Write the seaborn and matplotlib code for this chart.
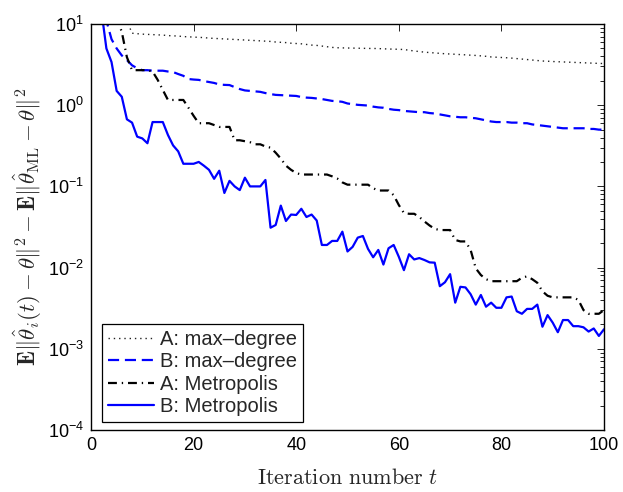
import numpy as np
import pandas as pd
import matplotlib
matplotlib.use("Agg")
import matplotlib.pyplot as plt
import seaborn as sns
from matplotlib.ticker import LogLocator, FixedLocator, NullFormatter, FuncFormatter

# ---------------- data ----------------
t = list(range(1, 101))

A_maxdeg = [100, 80, 60, 40, 25, 15, 11, 7.7, 7.6, 7.5,
            7.45, 7.4, 7.35, 7.3, 7.2, 7.15, 7.1, 7.0, 6.95, 6.9,
            6.85, 6.8, 6.7, 6.65, 6.6, 6.55, 6.5, 6.45, 6.4, 6.35,
            6.3, 6.25, 6.2, 6.15, 6.1, 6.0, 5.95, 5.9, 5.8, 5.75,
            5.7, 5.6, 5.5, 5.45, 5.35, 5.25, 5.15, 5.1, 5.08, 5.06,
            5.05, 5.03, 5.02, 5.0, 5.0, 4.98, 4.95, 4.92, 4.9, 4.88,
            4.85, 4.75, 4.65, 4.58, 4.5, 4.45, 4.4, 4.35, 4.3, 4.27,
            4.24, 4.2, 4.17, 4.13, 4.1, 4.05, 4.0, 3.93, 3.9, 3.87,
            3.84, 3.8, 3.75, 3.7, 3.65, 3.6, 3.55, 3.5, 3.48, 3.45,
            3.43, 3.41, 3.39, 3.37, 3.35, 3.33, 3.31, 3.29, 3.27, 3.26]

B_maxdeg = [50, 25, 11, 6.5, 5.0, 4.1, 3.6, 3.1, 2.85, 2.7,
            2.7, 2.66, 2.66, 2.66, 2.6, 2.56, 2.42, 2.3, 2.1, 2.07,
            2.05, 1.98, 1.93, 1.88, 1.8, 1.78, 1.77, 1.67, 1.58, 1.52,
            1.5, 1.48, 1.46, 1.41, 1.37, 1.34, 1.33, 1.32, 1.31, 1.3,
            1.26, 1.24, 1.23, 1.21, 1.19, 1.16, 1.13, 1.12, 1.1, 1.05,
            1.03, 1.01, 1.0, 0.99, 0.96, 0.94, 0.93, 0.90, 0.88, 0.87,
            0.85, 0.84, 0.83, 0.82, 0.82, 0.80, 0.79, 0.77, 0.75, 0.73,
            0.72, 0.71, 0.71, 0.70, 0.69, 0.67, 0.65, 0.63, 0.62, 0.62,
            0.62, 0.61, 0.61, 0.60, 0.60, 0.58, 0.57, 0.56, 0.55, 0.54,
            0.53, 0.52, 0.52, 0.52, 0.52, 0.52, 0.51, 0.51, 0.50, 0.50]

A_metro = [30, 25, 20, 15, 12, 8.0, 3.9, 2.7, 2.7, 2.7,
           2.7, 2.6, 2.05, 1.54, 1.16, 1.16, 1.16, 1.16, 0.93, 0.74,
           0.60, 0.60, 0.60, 0.57, 0.54, 0.54, 0.54, 0.37, 0.37, 0.36,
           0.35, 0.33, 0.33, 0.31, 0.30, 0.26, 0.22, 0.18, 0.16, 0.146,
           0.14, 0.14, 0.14, 0.14, 0.14, 0.14, 0.133, 0.125, 0.112, 0.105,
           0.105, 0.105, 0.105, 0.105, 0.095, 0.089, 0.089, 0.089, 0.078, 0.059,
           0.047, 0.046, 0.046, 0.042, 0.037, 0.033, 0.030, 0.029, 0.029, 0.029,
           0.0219, 0.021, 0.021, 0.0165, 0.0098, 0.0081, 0.0072, 0.0068, 0.0068, 0.0068,
           0.0068, 0.0068, 0.0068, 0.0075, 0.0078, 0.0072, 0.0065, 0.0051, 0.0045, 0.0043,
           0.0043, 0.0043, 0.0043, 0.0043, 0.0040, 0.0030, 0.0027, 0.0027, 0.0027, 0.0030]

B_metro = [40, 15, 5.0, 3.4, 1.5, 1.27, 0.67, 0.61, 0.41, 0.39,
           0.34, 0.62, 0.62, 0.62, 0.43, 0.32, 0.27, 0.19, 0.19, 0.19,
           0.20, 0.18, 0.16, 0.124, 0.156, 0.083, 0.117, 0.10, 0.090, 0.128,
           0.10, 0.10, 0.10, 0.12, 0.031, 0.0335, 0.058, 0.0375, 0.045, 0.0445,
           0.053, 0.042, 0.045, 0.038, 0.019, 0.019, 0.0213, 0.0213, 0.0277, 0.0158,
           0.018, 0.0234, 0.0245, 0.017, 0.0134, 0.0165, 0.0109, 0.0173, 0.019, 0.0136,
           0.0093, 0.0146, 0.0126, 0.0131, 0.0124, 0.0116, 0.0115, 0.0059, 0.0066, 0.0083,
           0.0037, 0.0058, 0.0057, 0.0047, 0.0035, 0.0046, 0.0033, 0.0037, 0.0032, 0.0032,
           0.0043, 0.0044, 0.0029, 0.0027, 0.0031, 0.0031, 0.0035, 0.00187, 0.0026, 0.0021,
           0.0016, 0.00226, 0.00226, 0.0019, 0.0019, 0.00184, 0.00163, 0.00178, 0.00144, 0.00174]

labels = ["A: max\u2013degree", "B: max\u2013degree", "A: Metropolis", "B: Metropolis"]
x_ticks = [0, 20, 40, 60, 80, 100]
y_decades = [-4, -3, -2, -1, 0, 1]

# ---------------- style ----------------
sns.set_theme(style="white")
plt.rcParams["font.family"] = ["Liberation Sans", "DejaVu Sans"]
plt.rcParams["mathtext.fontset"] = "custom"
plt.rcParams["mathtext.rm"] = "Liberation Sans"
plt.rcParams["mathtext.it"] = "Liberation Sans:italic"
plt.rcParams["mathtext.bf"] = "Liberation Sans:bold"

fig = plt.figure(figsize=(6.23, 4.92), dpi=100)
ax = fig.add_axes([91 / 623, 1 - 430 / 492, 513 / 623, 406 / 492])

series = [A_maxdeg, B_maxdeg, A_metro, B_metro]
colors = ["#222222", "#0000ff", "black", "#0000ff"]
widths = [1.0, 1.6, 1.6, 1.6]
dash_patterns = [(1.0, 2.8), (5.0, 2.6), (4.0, 2.2, 0.6, 2.2), None]

for vals, lab, col, lw, dp in zip(series, labels, colors, widths, dash_patterns):
    df = pd.DataFrame({"t": t, "v": vals})
    sns.lineplot(data=df, x="t", y="v", ax=ax, color=col, linewidth=lw,
                 label=lab, errorbar=None, estimator=None, sort=False)
    line = ax.lines[-1]
    if dp is not None:
        line.set_dashes(dp)
    line.set_solid_joinstyle("round")
    line.set_dash_capstyle("butt")

ax.set_yscale("log")
ax.set_xlim(0, 100)
ax.set_ylim(1e-4, 1e1)

ax.xaxis.set_major_locator(FixedLocator(x_ticks))
ax.set_xticklabels([str(v) for v in x_ticks])
ax.yaxis.set_major_locator(FixedLocator([10.0 ** k for k in y_decades]))
ax.yaxis.set_major_formatter(FuncFormatter(lambda v, p: r"$10^{%d}$" % round(np.log10(v))))
ax.yaxis.set_minor_locator(LogLocator(base=10, subs=np.arange(2, 10), numticks=20))
ax.yaxis.set_minor_formatter(NullFormatter())

ax.tick_params(axis="both", which="both", direction="in", top=True, right=True,
               labelsize=13, colors="black", width=0.6)
ax.tick_params(axis="both", which="major", length=5, pad=5)
ax.tick_params(axis="both", which="minor", length=2.8)
for sp in ax.spines.values():
    sp.set_color("black")
    sp.set_linewidth(1.0)

ax.set_xlabel(r"$\mathrm{Iteration\ number}\ t$", fontsize=16, math_fontfamily="cm",
              labelpad=10)
ax.set_ylabel(r"$\mathbf{E}\|\hat{\theta}_i(t)-\theta\|^2-\mathbf{E}\|\hat{\theta}_{\mathrm{ML}}-\theta\|^2$",
              fontsize=16.5, math_fontfamily="cm", labelpad=3)

leg = ax.legend(loc="lower left", bbox_to_anchor=(0.021, 0.02), borderaxespad=0,
                fontsize=14.5, frameon=True, fancybox=False, framealpha=1,
                edgecolor="black", handlelength=2.3, handletextpad=0.3,
                labelspacing=0.16, borderpad=0.3)
leg.get_frame().set_linewidth(0.9)

fig.savefig("out.png", dpi=100, facecolor="white")
